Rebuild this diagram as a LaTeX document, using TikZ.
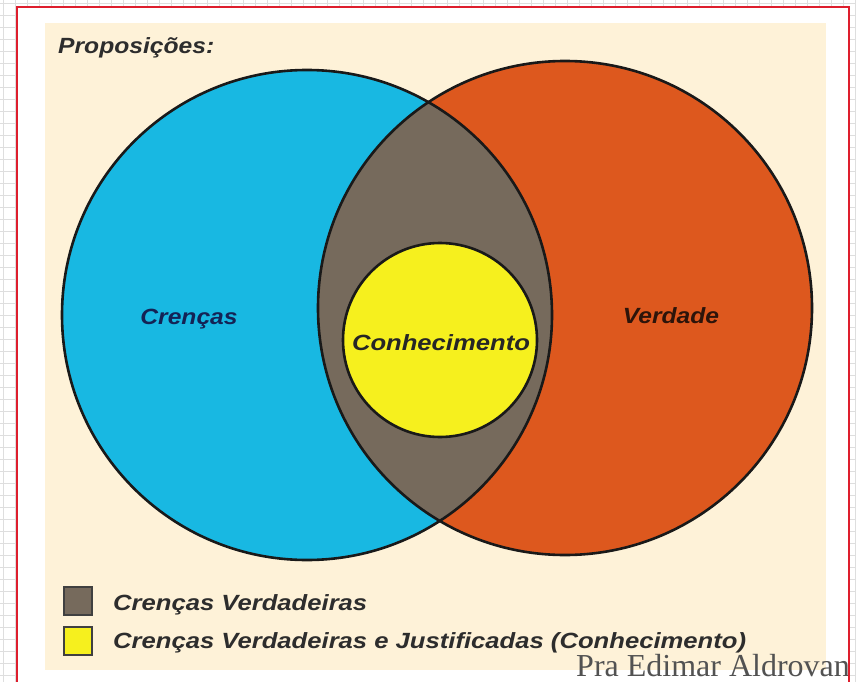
\documentclass[tikz,border=0pt]{standalone}
\usepackage{fontspec}
\setmainfont{Liberation Serif}
\newfontfamily\lsans{Liberation Sans}
\definecolor{cblue}{RGB}{24,184,226}
\definecolor{corange}{RGB}{221,88,30}
\definecolor{cgray}{RGB}{118,106,92}
\definecolor{cyellow}{RGB}{246,240,30}
\definecolor{cbeige}{RGB}{254,242,216}
\definecolor{cred}{RGB}{222,30,45}
\definecolor{cgrid}{RGB}{222,222,222}
\definecolor{ctitle}{RGB}{45,45,45}
\definecolor{cnavy}{RGB}{20,35,85}
\definecolor{cbrown}{RGB}{45,20,10}
\tikzset{
  lbl/.style={anchor=base, inner sep=0pt, font=\lsans\bfseries\itshape\fontsize{22}{26}\selectfont},
  leglbl/.style={anchor=base west, inner sep=0pt, text=ctitle, font=\lsans\bfseries\itshape\fontsize{22}{26}\selectfont},
  outl/.style={draw=black!90, line width=2.6pt},
  legbox/.style={draw=black!75, line width=2pt, minimum width=28pt, minimum height=28pt, inner sep=0pt}
}
\newcommand{\hstr}[1]{\scalebox{1.12}[1]{#1}}
\newcommand{\hstrw}[1]{\scalebox{1.165}[1]{#1}}
\begin{document}
\begin{tikzpicture}[x=1pt,y=-1pt]
\clip (0,0) rectangle (856,682);
\fill[white] (0,0) rectangle (856,682);
\foreach \i in {3,15,...,856} \draw[cgrid, line width=0.8pt] (\i,0) -- (\i,682);
\foreach \j in {3,15,...,682} \draw[cgrid, line width=0.8pt] (0,\j) -- (856,\j);
\fill[white] (17,7) rectangle (849,700);
\fill[cbeige] (45,23) rectangle (826,670);
% circles
\coordinate (cb) at (307,315);
\coordinate (co) at (565,308);
\coordinate (cy) at (440,340);
\fill[cblue] (cb) circle[radius=245pt];
\fill[corange] (co) circle[radius=247pt];
\begin{scope}
  \clip (cb) circle[radius=245pt];
  \fill[cgray] (co) circle[radius=247pt];
\end{scope}
\draw[outl] (cb) circle[radius=245pt];
\draw[outl] (co) circle[radius=247pt];
\fill[cyellow] (cy) circle[radius=97pt];
\draw[outl] (cy) circle[radius=97pt];
% labels
\node[lbl, text=ctitle, anchor=base west] (tit) at (58,54) {\hstr{Proposições:}};
\node[lbl, text=cnavy] (cren) at (189,324) {\hstr{Crenças}};
\node[lbl, text=cbrown] (verd) at (671,323) {\hstr{Verdade}};
\node[lbl, text=black!85] (conh) at (441,350) {\hstrw{Conhecimento}};
% legend
\node[legbox, fill=cgray] (lg1) at (77.5,601) {};
\node[legbox, fill=cyellow] (lg2) at (77.5,641) {};
\node[leglbl] (lt1) at (113,610) {\hstrw{Crenças Verdadeiras}};
\node[leglbl] (lt2) at (113,648) {\hstrw{Crenças Verdadeiras e Justificadas (Conhecimento)}};
% footer
\node[anchor=base west, inner sep=0pt, text=black!68, font=\fontsize{32}{36}\selectfont] (foot) at (576,676) {Pra Edimar Aldrovan};
% red frame
\draw[cred, line width=2.6pt] (17,700) -- (17,7) -- (849,7) -- (849,700);
\end{tikzpicture}
\end{document}
